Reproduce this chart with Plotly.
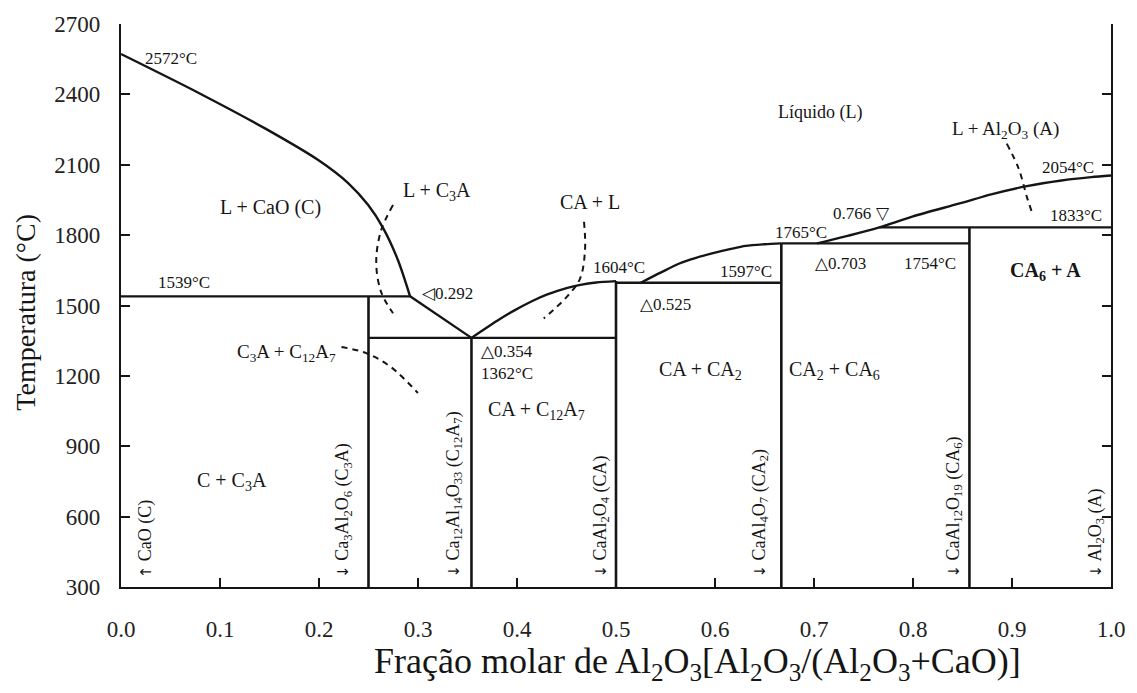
import plotly.graph_objects as go

# ---- phase boundaries of the CaO–Al2O3 system (x = Al2O3 mole fraction, T in °C) ----
# liquidus on the CaO side, from CaO melting point down to the C3A peritectic
liq_cao_x = [0.0, 0.079, 0.145, 0.1996, 0.2297, 0.2497, 0.2648, 0.2798, 0.292]
liq_cao_T = [2572, 2405, 2256, 2119, 2021, 1928, 1830, 1693, 1539]

# C12A7 liquidus segment down to the eutectic
liq_c12a7_x = [0.292, 0.354]
liq_c12a7_T = [1539, 1362]

# CA liquidus rising from the eutectic to CA congruent melting
liq_ca_x = [0.354, 0.38, 0.397, 0.415, 0.43, 0.45, 0.464, 0.48, 0.5]
liq_ca_T = [1362, 1435, 1478, 1518, 1546, 1574, 1588, 1598, 1604]

# CA2 liquidus
liq_ca2_x = [0.525, 0.545, 0.564, 0.58, 0.597, 0.615, 0.631, 0.65, 0.667]
liq_ca2_T = [1597, 1640, 1679, 1702, 1722, 1740, 1754, 1761, 1765]

# CA6 / Al2O3 liquidus
liq_al_x = [0.703, 0.735, 0.766, 0.80, 0.848, 0.88, 0.915, 0.95, 0.98, 1.0]
liq_al_T = [1765, 1798, 1833, 1880, 1936, 1975, 2009, 2033, 2047, 2054]

# invariant isotherms: temperature and x-extent
iso_T = [1539, 1362, 1597, 1765, 1833]
iso_x0 = [0.0, 0.25, 0.5, 0.667, 0.766]
iso_x1 = [0.292, 0.5, 0.667, 0.857, 1.0]

# stoichiometric compounds: composition and top of the vertical line
comp_x = [0.25, 0.354, 0.5, 0.667, 0.857]
comp_Ttop = [1539, 1362, 1604, 1765, 1833]
T_min = 300

# dashed leader curves pointing into the narrow fields
lead_lc3a_x = [0.2748, 0.2628, 0.2578, 0.2628, 0.2748]
lead_lc3a_T = [1928, 1821, 1685, 1557, 1467]
lead_cal_x = [0.4677, 0.4687, 0.4637, 0.4503, 0.427]
lead_cal_T = [1857, 1736, 1615, 1537, 1445]
lead_c3ac12_x = [0.2227, 0.2477, 0.2728, 0.2999]
lead_c3ac12_T = [1323, 1297, 1237, 1127]
lead_la_x = [0.8947, 0.9067, 0.915, 0.920]
lead_la_T = [2190, 2084, 1963, 1899]

x_ticks = [0.0, 0.1, 0.2, 0.3, 0.4, 0.5, 0.6, 0.7, 0.8, 0.9, 1.0]
x_ticklabels = ["0.0", "0.1", "0.2", "0.3", "0.4", "0.5", "0.6", "0.7", "0.8", "0.9", "1.0"]
y_ticks = [300, 600, 900, 1200, 1500, 1800, 2100, 2400, 2700]

INK = "#151515"
FONT = "Liberation Serif"
LW = 2.4

fig = go.Figure()


def solid(xs, ys, width=LW):
    fig.add_trace(go.Scatter(x=xs, y=ys, mode="lines", line=dict(color=INK, width=width),
                             hoverinfo="skip", showlegend=False))


def dashed(xs, ys):
    fig.add_trace(go.Scatter(x=xs, y=ys, mode="lines",
                             line=dict(color=INK, width=2, dash="6px,5px", shape="spline"),
                             hoverinfo="skip", showlegend=False))


for xs, ys in [(liq_cao_x, liq_cao_T), (liq_c12a7_x, liq_c12a7_T), (liq_ca_x, liq_ca_T),
               (liq_ca2_x, liq_ca2_T), (liq_al_x, liq_al_T)]:
    fig.add_trace(go.Scatter(x=xs, y=ys, mode="lines",
                             line=dict(color=INK, width=LW, shape="spline", smoothing=0.8),
                             hoverinfo="skip", showlegend=False))

for T, a, b in zip(iso_T, iso_x0, iso_x1):
    solid([a, b], [T, T])

for xc, Tt in zip(comp_x, comp_Ttop):
    solid([xc, xc], [T_min, Tt], width=2.6)

for xs, ys in [(lead_lc3a_x, lead_lc3a_T), (lead_cal_x, lead_cal_T),
               (lead_c3ac12_x, lead_c3ac12_T), (lead_la_x, lead_la_T)]:
    dashed(xs, ys)


def note(text, x, y, size=18, xanchor="center", angle=0, yanchor="middle"):
    fig.add_annotation(x=x, y=y, text=text, showarrow=False, xanchor=xanchor, yanchor=yanchor,
                       textangle=angle, font=dict(family=FONT, size=size, color=INK))


# temperatures and compositions of invariant points
note("2572°C", 0.022, 2555, size=17, xanchor="left")
note("1539°C", 0.064, 1600, size=17)
note("◁0.292", 0.302, 1553, size=17, xanchor="left")
note("△0.354", 0.362, 1302, size=17, xanchor="left")
note("1362°C", 0.362, 1212, size=17, xanchor="left")
note("1604°C", 0.5035, 1660, size=17)
note("△0.525", 0.5226, 1506, size=17, xanchor="left")
note("1597°C", 0.631, 1647, size=17)
note("1765°C", 0.687, 1813, size=17)
note("0.766 ▽", 0.748, 1894, size=17)
note("△0.703", 0.727, 1681, size=17)
note("1754°C", 0.8175, 1681, size=17)
note("2054°C", 0.957, 2090, size=17)
note("1833°C", 0.965, 1882, size=17)

# phase fields
note("Líquido (L)", 0.706, 2321, size=18)
note("L + Al<sub>2</sub>O<sub>3</sub> (A)", 0.8937, 2248, size=19)
note("L + CaO (C)", 0.1505, 1916, size=20)
note("L + C<sub>3</sub>A", 0.319, 1984, size=20)
note("CA + L", 0.4734, 1941, size=20)
note("C<sub>3</sub>A + C<sub>12</sub>A<sub>7</sub>", 0.1675, 1298, size=19)
note("C + C<sub>3</sub>A", 0.1123, 748, size=20)
note("CA + C<sub>12</sub>A<sub>7</sub>", 0.420, 1054, size=20)
note("CA + CA<sub>2</sub>", 0.5858, 1225, size=20)
note("CA<sub>2</sub> + CA<sub>6</sub>", 0.721, 1225, size=20)
note("<b>CA<sub>6</sub> + A</b>", 0.934, 1643, size=20)

# compound labels along the composition lines
ARROW_UP = '<span style="font-family:DejaVu Sans;font-size:15px">↑</span>'
ARROW_DN = '<span style="font-family:DejaVu Sans;font-size:15px">↓</span>'
for txt, xc in [(ARROW_UP + " CaO (C)", 0.0251),
                (ARROW_DN + " Ca<sub>3</sub>Al<sub>2</sub>O<sub>6</sub> (C<sub>3</sub>A)", 0.2247),
                (ARROW_DN + " Ca<sub>12</sub>Al<sub>14</sub>O<sub>33</sub> (C<sub>12</sub>A<sub>7</sub>)", 0.337),
                (ARROW_DN + " CaAl<sub>2</sub>O<sub>4</sub> (CA)", 0.4855),
                (ARROW_DN + " CaAl<sub>4</sub>O<sub>7</sub> (CA<sub>2</sub>)", 0.646),
                (ARROW_DN + " CaAl<sub>12</sub>O<sub>19</sub> (CA<sub>6</sub>)", 0.8415),
                (ARROW_DN + " Al<sub>2</sub>O<sub>3</sub> (A)", 0.985)]:
    note(txt, xc, 330, size=18, angle=-90, yanchor="bottom")

# axis titles
fig.add_annotation(xref="paper", yref="paper", x=-0.0963, y=0.4885, text="Temperatura (°C)",
                   textangle=-90, showarrow=False, xanchor="center", yanchor="middle",
                   font=dict(family=FONT, size=28, color=INK))
fig.add_annotation(xref="paper", yref="paper", x=0.582, y=-0.135,
                   text="Fração molar de Al<sub>2</sub>O<sub>3</sub>[Al<sub>2</sub>O<sub>3</sub>/(Al<sub>2</sub>O<sub>3</sub>+CaO)]",
                   showarrow=False, xanchor="center", yanchor="middle",
                   font=dict(family=FONT, size=36, color=INK))

fig.update_layout(
    width=1137, height=693,
    margin=dict(l=121, r=19, t=24, b=106),
    paper_bgcolor="white", plot_bgcolor="white",
    showlegend=False,
)
fig.update_xaxes(range=[0, 1], tickvals=x_ticks, ticktext=x_ticklabels,
                 showgrid=False, zeroline=False, showline=True, linecolor=INK, linewidth=2.4,
                 ticks="inside", ticklen=9, tickwidth=2, tickcolor=INK, mirror=False,
                 ticklabelstandoff=20,
                 tickfont=dict(family=FONT, size=23, color="#222"))
fig.update_yaxes(range=[300, 2700], tickvals=y_ticks,
                 showgrid=False, zeroline=False, showline=True, linecolor=INK, linewidth=2.4,
                 ticks="inside", ticklen=9, tickwidth=2, tickcolor=INK, mirror="ticks",
                 ticklabelstandoff=14,
                 tickfont=dict(family=FONT, size=23, color="#222"))

fig.write_html("out.html")
